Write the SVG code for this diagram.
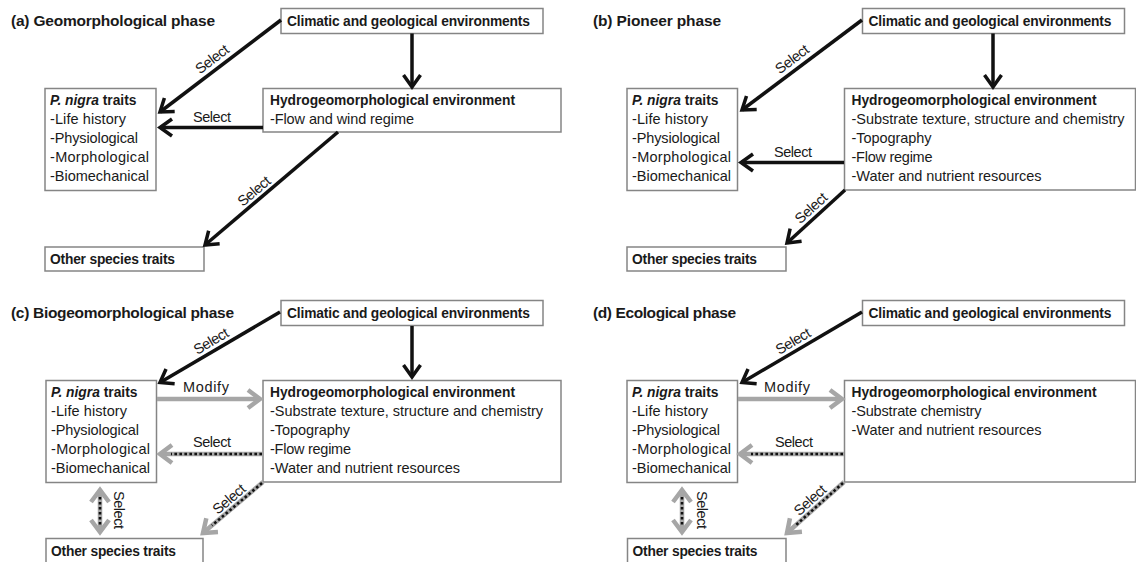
<svg xmlns="http://www.w3.org/2000/svg" width="1136" height="562" viewBox="0 0 1136 562">
<style>
.box{fill:#fff;stroke:#858585;stroke-width:1.5}
text{font-family:"Liberation Sans",Arial,sans-serif;fill:#1a1a1a}
.ttl{font-weight:bold;font-size:15.5px}
.b{font-weight:bold;font-size:13.8px}
.r{font-size:14.5px}
.lbl{font-size:14.5px;text-anchor:middle}
.k{stroke:#111;stroke-width:3.5;fill:none}
.g{stroke:#a6a6a6;stroke-width:4.5;fill:none}
.d{stroke:#111;stroke-width:2.6;stroke-dasharray:2.6 2.4;fill:none}
</style>
<defs>
<marker id="mk" markerUnits="userSpaceOnUse" viewBox="-16 -12 21 24" refX="0" refY="0" markerWidth="21" markerHeight="24" orient="auto-start-reverse">
<path d="M-12,-8.5 L0,0 L-12,8.5" fill="none" stroke="#111" stroke-width="3.5"/>
</marker>
<marker id="mg" markerUnits="userSpaceOnUse" viewBox="-16 -13 22 26" refX="0" refY="0" markerWidth="22" markerHeight="26" orient="auto-start-reverse">
<path d="M-12,-9 L0,0 L-12,9" fill="none" stroke="#a6a6a6" stroke-width="4.5"/>
</marker>
</defs>

<g id="titles">
<text class="ttl" x="11" y="26" textLength="204">(a) Geomorphological phase</text>
<text class="ttl" x="593" y="26" textLength="128">(b) Pioneer phase</text>
<text class="ttl" x="11" y="318" textLength="223">(c) Biogeomorphological phase</text>
<text class="ttl" x="593" y="318" textLength="143">(d) Ecological phase</text>
</g>

<!-- Panel a -->
<g id="a-climatic">
<rect class="box" x="281" y="8.5" width="262" height="25"/>
<text class="b" x="287" y="25.5" textLength="243">Climatic and geological environments</text>
</g>
<g id="a-hydro">
<rect class="box" x="263" y="88.5" width="298" height="43.5"/>
<text class="b" x="270" y="105" textLength="245">Hydrogeomorphological environment</text>
<text class="r" x="270" y="124" textLength="144">-Flow and wind regime</text>
</g>
<g id="a-pnigra">
<rect class="box" x="45" y="88.5" width="111" height="102"/>
<text class="b" x="50" y="105"><tspan font-style="italic">P. nigra</tspan> traits</text>
<text class="r" x="50" y="124" textLength="76">-Life history</text>
<text class="r" x="50" y="143" textLength="88">-Physiological</text>
<text class="r" x="50" y="162" textLength="99">-Morphological</text>
<text class="r" x="50" y="181" textLength="99">-Biomechanical</text>
</g>
<g id="a-other">
<rect class="box" x="45" y="247" width="159" height="24"/>
<text class="b" x="50" y="263.5" textLength="125">Other species traits</text>
</g>

<!-- Panel b -->
<g id="b-climatic">
<rect class="box" x="862.5" y="8.5" width="262" height="25"/>
<text class="b" x="868.5" y="25.5" textLength="243">Climatic and geological environments</text>
</g>
<g id="b-hydro">
<rect class="box" x="844.5" y="88.5" width="291" height="101.5"/>
<text class="b" x="851.5" y="105" textLength="245">Hydrogeomorphological environment</text>
<text class="r" x="851.5" y="124" textLength="273">-Substrate texture, structure and chemistry</text>
<text class="r" x="851.5" y="143" textLength="80">-Topography</text>
<text class="r" x="851.5" y="162" textLength="81">-Flow regime</text>
<text class="r" x="851.5" y="181" textLength="190">-Water and nutrient resources</text>
</g>
<g id="b-pnigra">
<rect class="box" x="627" y="88.5" width="110.5" height="102"/>
<text class="b" x="632" y="105"><tspan font-style="italic">P. nigra</tspan> traits</text>
<text class="r" x="632" y="124" textLength="76">-Life history</text>
<text class="r" x="632" y="143" textLength="88">-Physiological</text>
<text class="r" x="632" y="162" textLength="99">-Morphological</text>
<text class="r" x="632" y="181" textLength="99">-Biomechanical</text>
</g>
<g id="b-other">
<rect class="box" x="627" y="247" width="159" height="24"/>
<text class="b" x="632" y="263.5" textLength="125">Other species traits</text>
</g>

<!-- Panel c -->
<g id="c-climatic">
<rect class="box" x="281" y="300.5" width="262" height="25"/>
<text class="b" x="287" y="317.5" textLength="243">Climatic and geological environments</text>
</g>
<g id="c-hydro">
<rect class="box" x="263" y="380.5" width="298" height="101.5"/>
<text class="b" x="270" y="397" textLength="245">Hydrogeomorphological environment</text>
<text class="r" x="270" y="416" textLength="273">-Substrate texture, structure and chemistry</text>
<text class="r" x="270" y="435" textLength="80">-Topography</text>
<text class="r" x="270" y="454" textLength="81">-Flow regime</text>
<text class="r" x="270" y="473" textLength="190">-Water and nutrient resources</text>
</g>
<g id="c-pnigra">
<rect class="box" x="46" y="380.5" width="110.5" height="102"/>
<text class="b" x="51" y="397"><tspan font-style="italic">P. nigra</tspan> traits</text>
<text class="r" x="51" y="416" textLength="76">-Life history</text>
<text class="r" x="51" y="435" textLength="88">-Physiological</text>
<text class="r" x="51" y="454" textLength="99">-Morphological</text>
<text class="r" x="51" y="473" textLength="99">-Biomechanical</text>
</g>
<g id="c-other">
<rect class="box" x="46" y="538.5" width="157" height="26"/>
<text class="b" x="51" y="555.5" textLength="125">Other species traits</text>
</g>

<!-- Panel d -->
<g id="d-climatic">
<rect class="box" x="862.5" y="300.5" width="262" height="25"/>
<text class="b" x="868.5" y="317.5" textLength="243">Climatic and geological environments</text>
</g>
<g id="d-hydro">
<rect class="box" x="844.5" y="380.5" width="291" height="101.5"/>
<text class="b" x="851.5" y="397" textLength="245">Hydrogeomorphological environment</text>
<text class="r" x="851.5" y="416" textLength="130">-Substrate chemistry</text>
<text class="r" x="851.5" y="435" textLength="190">-Water and nutrient resources</text>
</g>
<g id="d-pnigra">
<rect class="box" x="627" y="380.5" width="110.5" height="102"/>
<text class="b" x="632" y="397"><tspan font-style="italic">P. nigra</tspan> traits</text>
<text class="r" x="632" y="416" textLength="76">-Life history</text>
<text class="r" x="632" y="435" textLength="88">-Physiological</text>
<text class="r" x="632" y="454" textLength="99">-Morphological</text>
<text class="r" x="632" y="473" textLength="99">-Biomechanical</text>
</g>
<g id="d-other">
<rect class="box" x="627.5" y="538.5" width="158.5" height="26"/>
<text class="b" x="632.5" y="555.5" textLength="125">Other species traits</text>
</g>

<g id="connectors">
<!-- a -->
<line class="k" x1="281" y1="20" x2="160" y2="112" marker-end="url(#mk)"/>
<text class="lbl" transform="translate(212,59) rotate(-37.2)" x="0" y="5" textLength="38">Select</text>
<line class="k" x1="412" y1="33.5" x2="412" y2="87" marker-end="url(#mk)"/>
<line class="k" x1="263" y1="127.5" x2="160" y2="127.5" marker-end="url(#mk)"/>
<text class="lbl" x="212" y="121.5" textLength="38">Select</text>
<line class="k" x1="338" y1="132" x2="205" y2="245" marker-end="url(#mk)"/>
<text class="lbl" transform="translate(254,191) rotate(-40.3)" x="0" y="5" textLength="38">Select</text>
<!-- b -->
<line class="k" x1="862" y1="20" x2="742" y2="110" marker-end="url(#mk)"/>
<text class="lbl" transform="translate(792,59) rotate(-36.9)" x="0" y="5" textLength="38">Select</text>
<line class="k" x1="993" y1="33.5" x2="993" y2="87" marker-end="url(#mk)"/>
<line class="k" x1="844" y1="162.5" x2="741" y2="162.5" marker-end="url(#mk)"/>
<text class="lbl" x="793" y="156.5" textLength="38">Select</text>
<line class="k" x1="845" y1="190" x2="787" y2="243" marker-end="url(#mk)"/>
<text class="lbl" transform="translate(811,208) rotate(-42.4)" x="0" y="5" textLength="38">Select</text>
<!-- c -->
<line class="k" x1="280" y1="312" x2="160" y2="382.5" marker-end="url(#mk)"/>
<text class="lbl" transform="translate(211,341) rotate(-30.4)" x="0" y="5" textLength="38">Select</text>
<line class="k" x1="412" y1="326" x2="412" y2="377" marker-end="url(#mk)"/>
<line class="g" x1="157" y1="399" x2="260" y2="399" marker-end="url(#mg)"/>
<text class="lbl" x="206" y="392" textLength="46">Modify</text>
<line class="g" x1="263" y1="454" x2="160" y2="454" marker-end="url(#mg)"/>
<line class="d" x1="262" y1="454" x2="171" y2="454"/>
<text class="lbl" x="212" y="447" textLength="38">Select</text>
<line class="g" x1="263" y1="482" x2="203" y2="533" marker-end="url(#mg)"/>
<line class="d" x1="262" y1="483" x2="212" y2="525.5"/>
<text class="lbl" transform="translate(229,499) rotate(-40.4)" x="0" y="5" textLength="38">Select</text>
<line class="g" x1="100" y1="490" x2="100" y2="532" marker-start="url(#mg)" marker-end="url(#mg)"/>
<line class="d" x1="100" y1="497" x2="100" y2="526"/>
<text class="lbl" transform="translate(119,510) rotate(90)" x="0" y="5" textLength="38">Select</text>
<!-- d -->
<line class="k" x1="862" y1="312" x2="742" y2="382.5" marker-end="url(#mk)"/>
<text class="lbl" transform="translate(793,341) rotate(-30.4)" x="0" y="5" textLength="38">Select</text>
<line class="g" x1="738" y1="399" x2="842" y2="399" marker-end="url(#mg)"/>
<text class="lbl" x="787" y="392" textLength="46">Modify</text>
<line class="g" x1="844" y1="454" x2="740" y2="454" marker-end="url(#mg)"/>
<line class="d" x1="843" y1="454" x2="751" y2="454"/>
<text class="lbl" x="794" y="447" textLength="38">Select</text>
<line class="g" x1="844" y1="482" x2="787" y2="533" marker-end="url(#mg)"/>
<line class="d" x1="843" y1="483" x2="796" y2="525"/>
<text class="lbl" transform="translate(810,500) rotate(-41.8)" x="0" y="5" textLength="38">Select</text>
<line class="g" x1="682" y1="490" x2="682" y2="532" marker-start="url(#mg)" marker-end="url(#mg)"/>
<line class="d" x1="682" y1="497" x2="682" y2="526"/>
<text class="lbl" transform="translate(702,510) rotate(90)" x="0" y="5" textLength="38">Select</text>
</g>
</svg>
